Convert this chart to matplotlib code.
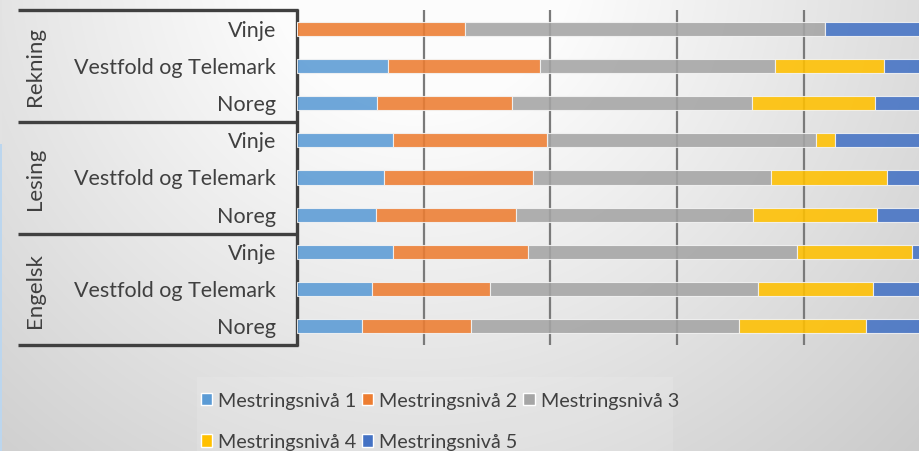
import numpy as np
import matplotlib
matplotlib.use("Agg")
import matplotlib.pyplot as plt
from matplotlib.patches import Rectangle, Patch

plt.rcParams['font.family'] = ['Lato', 'DejaVu Sans']

groups = ["Rekning", "Lesing", "Engelsk"]
places = ["Vinje", "Vestfold og Telemark", "Noreg"]
series_names = ["Mestringsnivå 1", "Mestringsnivå 2", "Mestringsnivå 3",
                "Mestringsnivå 4", "Mestringsnivå 5"]
# rows: Rekning(Vinje, VT, Noreg), Lesing(...), Engelsk(...)
niva1 = [0.0, 14.4, 12.6, 15.2, 13.7, 12.5, 15.2, 11.8, 10.3]
niva2 = [26.5, 24.0, 21.3, 24.2, 23.5, 22.1, 21.2, 18.6, 17.2]
niva3 = [56.8, 37.1, 37.9, 42.5, 37.6, 37.4, 42.5, 42.3, 42.3]
niva4 = [0.0, 17.2, 19.4, 3.0, 18.3, 19.6, 18.2, 18.2, 20.0]
niva5 = [16.7, 7.3, 8.7, 15.2, 6.8, 8.4, 3.0, 9.0, 10.1]
colors = ["#5B9BD5", "#ED7D31", "#A5A5A5", "#FFC000", "#4472C4"]

W, H = 920, 452
fig = plt.figure(figsize=(W / 100, H / 100), dpi=100)

# background gradient
bg = fig.add_axes([0, 0, 1, 1], zorder=-10)
yy, xx = np.mgrid[0:H, 0:W]
d = np.sqrt((xx - 420) ** 2 + (yy + 40) ** 2)
c = np.clip(266 - 0.09 * d, 0, 252) / 255.0
img = np.dstack([c, c, c])
bg.imshow(img, extent=[0, W, H, 0], aspect='auto', interpolation='bilinear')
bg.set_xlim(0, W)
bg.set_ylim(H, 0)
bg.axis('off')
bg.add_patch(Rectangle((0, 0), 2, 145, color="#e2e2e2", lw=0))
bg.add_patch(Rectangle((0, 145), 2.5, H - 145, color="#bcd6ee", lw=0))
# faint legend panel
bg.add_patch(Rectangle((197, 378), 476, H - 378, color="white", alpha=0.12, lw=0))

# main axes (extends past right edge like the reference)
x0, x1 = 297, 930.5
ytop, ybot = 11, 346
ax = fig.add_axes([x0 / W, 1 - ybot / H, (x1 - x0) / W, (ybot - ytop) / H])
ax.patch.set_alpha(0)

data = [niva1, niva2, niva3, niva4, niva5]
y = np.arange(9)
left = np.zeros(9)
for vals, col, name in zip(data, colors, series_names):
    vals = np.array(vals)
    ax.barh(y, vals, left=left, height=0.38, color=col, alpha=0.88,
            edgecolor="#f4f4f4", linewidth=0.8, label=name, zorder=2)
    left += vals

ax.set_xlim(0, 100)
ax.set_ylim(8.5, -0.5)
ax.set_xticks([20, 40, 60, 80])
ax.xaxis.grid(True, color="#7a7a7a", linewidth=1.6, zorder=1)
ax.set_axisbelow(True)
ax.tick_params(length=0, labelbottom=False, labelleft=False)
for s in ax.spines.values():
    s.set_visible(False)

# category box on the left (figure pixel coordinates via bg axes)
lc = "#404040"
for yl in [11, 123, 234.5, 346]:
    bg.plot([18, 298.5], [yl, yl], color=lc, lw=2.4, solid_capstyle='butt')
bg.plot([297, 297], [9.8, 347.2], color=lc, lw=2.4, solid_capstyle='butt')

tc = "#404040"
row_px = ytop + (np.arange(9) + 0.5) * (ybot - ytop) / 9
for i, g in enumerate(groups):
    yc = ytop + (i + 0.5) * (ybot - ytop) / 3
    bg.text(35, yc, g, rotation=90, ha='center', va='center',
            fontsize=16, color=tc)
    for j, p in enumerate(places):
        bg.text(276, row_px[i * 3 + j] + 1, p, ha='right', va='center',
                fontsize=15.5, color=tc)

handles = [Patch(facecolor=c_, edgecolor="white", linewidth=1.0) for c_ in colors]
order = [0, 3, 1, 4, 2]
leg = fig.legend([handles[k] for k in order], [series_names[k] for k in order],
                 ncol=3, loc='upper left', bbox_to_anchor=(186 / W, 1 - 378 / H),
                 frameon=False, fontsize=14.2, handlelength=0.57, handleheight=0.57,
                 handletextpad=0.3, columnspacing=0.3, labelspacing=1.25,
                 borderaxespad=0, borderpad=0.75, labelcolor=tc)

fig.savefig("out.png", dpi=100)
